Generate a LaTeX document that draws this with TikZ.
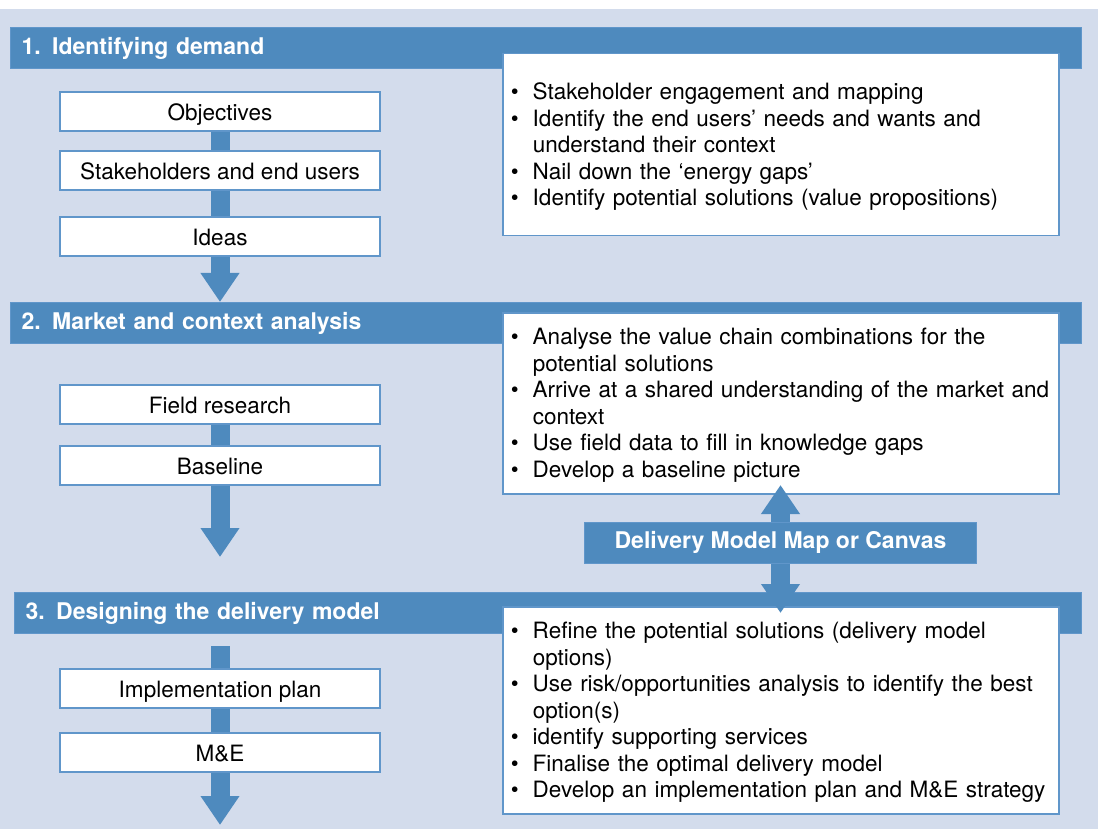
\documentclass[tikz,border=0pt]{standalone}
\usepackage{fontspec}
\setmainfont{TeX Gyre Heros}
\usetikzlibrary{positioning,arrows.meta}
\definecolor{bluebar}{RGB}{78,138,190}
\definecolor{bluepale}{RGB}{211,220,236}
\definecolor{blueline}{RGB}{96,150,202}
\tikzset{%
  phase/.style={fill=bluebar, draw=blueline, line width=1pt, anchor=north west,
    minimum height=41pt, inner xsep=11pt, text width=1049pt, align=left,
    text=white, font=\fontsize{23}{27}\selectfont\bfseries},% phase heading bar
  stepbox/.style={draw=blueline, line width=2pt, fill=white, minimum width=320pt,
    minimum height=39pt, text height=20pt, text depth=2pt,
    font=\fontsize{22.5}{26.5}\selectfont},% step of a phase
  notes/.style={draw=blueline, line width=1.5pt, fill=white, anchor=north west,
    minimum width=556pt, inner xsep=8pt, text width=540pt, align=left,
    execute at end node={\par\vspace{6pt}},
    font=\fontsize{22.5}{26.5}\selectfont},% bullet list of a phase
  flow/.style={bluebar, line width=19pt},% thick stem between steps
  flowarrow/.style={flow, -{Triangle[width=37pt,length=29pt]}}
}
\newcommand*{\bul}{\par\noindent\hangindent=22pt\hangafter=1\hbox to 22pt{\textbullet\hfil}}
\begin{document}
\begin{tikzpicture}[x=1pt,y=-1pt]
\useasboundingbox (0,0) rectangle (1098,829);
\fill[white] (0,0) rectangle (1098,829);
\fill[bluepale] (0,9) rectangle (1098,829);

% phase headings
\node[phase] (head1) at (10,27) {1. Identifying demand};
\node[phase] (head2) at (10,302) {2. Market and context analysis};
\node[phase, text width=1045pt] (head3) at (14,592) {3. Designing the delivery model};

% bullet lists
\node[notes, minimum height=182pt] (list1) at (502,53) {%
  \bul Stakeholder engagement and mapping
  \bul Identify the end users' needs and wants and\newline understand their context
  \bul Nail down the ‘energy gaps’
  \bul Identify potential solutions (value propositions)};
\node[notes, minimum height=181pt] (list2) at (502,312) {%
  \bul Analyse the value chain combinations for the\newline potential solutions
  \bul Arrive at a shared understanding of the market and\newline context
  \bul Use field data to fill in knowledge gaps
  \bul Develop a baseline picture};
\node[notes, minimum height=207pt] (list3) at (502,606) {%
  \bul Refine the potential solutions (delivery model\newline options)
  \bul Use risk/opportunities analysis to identify the best\newline option(s)
  \bul identify supporting services
  \bul Finalise the optimal delivery model
  \bul Develop an implementation plan and M\&E strategy};

% steps
\node[stepbox] (obj) at (220,111.5) {Objectives};
\node[stepbox] (stake) at (220,170.5) {Stakeholders and end users};
\node[stepbox] (ideas) at (220,237) {Ideas};
\node[stepbox] (field) at (220,404) {Field research};
\node[stepbox] (base) at (220,465) {Baseline};
\node[stepbox] (impl) at (220,688) {Implementation plan};
\node[stepbox] (me) at (220,752.5) {M\&E};

\coordinate (baseend) at (220,557);
\coordinate (implstart) at (220,646);
\coordinate (meend) at (220,825);

\draw[flow] (obj) -- (stake);
\draw[flow] (stake) -- (ideas);
\draw[flowarrow] (ideas) -- (ideas.south |- head2.north);
\draw[flow] (field) -- (base);
\draw[flowarrow] (base) -- (baseend);
\draw[flow] (implstart) -- (impl);
\draw[flow] (impl) -- (me);
\draw[flowarrow] (me) -- (meend);

% map or canvas between phases 2 and 3
\node[fill=bluebar, draw=blueline, line width=1pt, minimum width=392pt, minimum height=41pt,
  text=white, font=\fontsize{23}{27}\selectfont\bfseries] (canvas) at (780.5,542.5) {Delivery Model Map or Canvas};
\coordinate (canvasup) at (780.5,485);
\coordinate (canvasdown) at (780.5,613);
\draw[flowarrow] (canvas) -- (canvasup);
\draw[flowarrow] (canvas) -- (canvasdown);
\end{tikzpicture}
\end{document}
